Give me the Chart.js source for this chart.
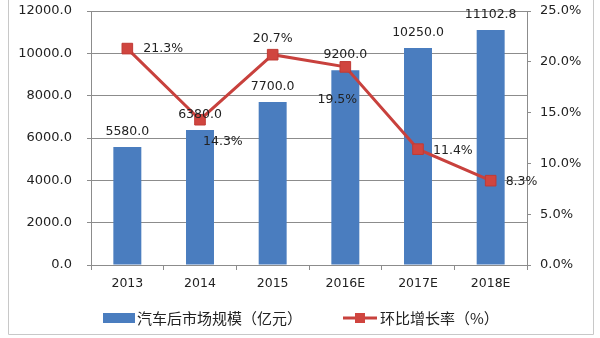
<!DOCTYPE html>
<html lang="zh">
<head>
  <meta charset="UTF-8">
  <title>汽车后市场规模</title>
  <script src="https://cdn.jsdelivr.net/npm/chart.js"></script>
  <style>
    html, body { margin:0; padding:0; background:#fff }
    .wrap { width:600px; height:338px; position:relative }
  </style>
</head>
<body>
  <div class="wrap"><canvas id="c" width="600" height="338"></canvas></div>
  <script>
    // data
    const years=["2013","2014","2015","2016E","2017E","2018E"];
    const marketSize=[5580.0,6380.0,7700.0,9200.0,10250.0,11102.8];
    const growthRate=[21.3,14.3,20.7,19.5,11.4,8.3];
    const sizeLabel="汽车后市场规模（亿元）";
    const rateLabel="环比增长率（%）";

    const BLUE="#4a7dbf", RED="#c8413d", GRID="#8c8c8c", TXT="#222";
    const NUM_FONT="DejaVu Sans";
    const CJK_FONT="'Noto Sans CJK SC'";

    // where each % label sits relative to its point: [dx, dy, align]
    const ratePlace=[[16,0,"left"],[3,22,"left"],[0,-16,"center"],[-8,33,"center"],[15,2,"left"],[15,1,"left"]];

    // frame round the picture
    const framePlugin={
      id:"frame",
      beforeDraw(chart){
        const ctx=chart.ctx;
        ctx.save();
        ctx.strokeStyle="#c8c8c8"; ctx.lineWidth=1;
        ctx.beginPath();
        ctx.moveTo(8.5,0); ctx.lineTo(8.5,334.5); ctx.lineTo(593.5,334.5); ctx.lineTo(593.5,0);
        ctx.stroke();
        ctx.restore();
      }
    };

    // value labels on bars and points
    const labelPlugin={
      id:"valueLabels",
      afterDatasetsDraw(chart){
        const ctx=chart.ctx;
        ctx.save();
        ctx.fillStyle=TXT;
        ctx.font="12.5px "+NUM_FONT;
        ctx.textBaseline="middle";
        chart.getDatasetMeta(0).data.forEach((el,i)=>{
          ctx.textAlign="center";
          ctx.fillText(marketSize[i].toFixed(1), el.x, el.y-15.5);
        });
        chart.getDatasetMeta(1).data.forEach((el,i)=>{
          const [dx,dy,al]=ratePlace[i];
          ctx.textAlign=al;
          ctx.fillText(growthRate[i].toFixed(1)+"%", el.x+dx, el.y+dy);
        });
        ctx.restore();
      }
    };

    // legend drawn under the axis
    const legendPlugin={
      id:"bottomLegend",
      afterDraw(chart){
        const ctx=chart.ctx;
        const y=318;
        ctx.save();
        ctx.font="15px "+CJK_FONT;
        ctx.fillStyle=TXT;
        ctx.textBaseline="middle";
        ctx.textAlign="left";
        // bar item
        let x=103;
        ctx.fillStyle=chart.data.datasets[0].backgroundColor;
        ctx.fillRect(x,y-5,32,10);
        ctx.fillStyle=TXT;
        ctx.fillText(chart.data.datasets[0].label,x+34,y);
        // line item
        x=343;
        ctx.strokeStyle=chart.data.datasets[1].borderColor;
        ctx.lineWidth=3;
        ctx.beginPath(); ctx.moveTo(x,y); ctx.lineTo(x+34,y); ctx.stroke();
        ctx.fillStyle=chart.data.datasets[1].pointBackgroundColor;
        ctx.fillRect(x+12,y-5,10,10);
        ctx.fillStyle=TXT;
        ctx.fillText(chart.data.datasets[1].label,x+37,y);
        ctx.restore();
      }
    };

    // fixed axis sizes so the plot area lands where the original has it
    function fixY(width){
      return s=>{ s.width=width; s.paddingTop=0; s.paddingBottom=0; };
    }

    new Chart(document.getElementById("c"),{
      data:{
        labels:years,
        datasets:[
          {
            type:"bar", label:sizeLabel, data:marketSize, yAxisID:"y",
            backgroundColor:BLUE, borderWidth:0,
            barPercentage:0.385, categoryPercentage:1, order:1
          },
          {
            type:"line", label:rateLabel, data:growthRate, yAxisID:"y1",
            borderColor:RED, borderWidth:3, tension:0,
            pointStyle:"rect", pointRadius:7.5,
            pointBackgroundColor:"#d0453f", pointBorderColor:"#c03a35", pointBorderWidth:1,
            order:0
          }
        ]
      },
      options:{
        responsive:false,
        animation:false,
        layout:{padding:{top:11,bottom:43,left:0,right:0}},
        plugins:{legend:{display:false},tooltip:{enabled:false}},
        scales:{
          x:{
            offset:true,
            afterFit(s){ s.height=30; },
            grid:{offset:true,drawOnChartArea:false,tickLength:5,color:GRID},
            border:{color:GRID},
            ticks:{color:TXT,font:{family:NUM_FONT,size:12.5},padding:6}
          },
          y:{
            position:"left", min:0, max:12000,
            afterFit:fixY(91),
            grid:{color:GRID,tickLength:4},
            border:{color:GRID},
            ticks:{stepSize:2000,color:TXT,font:{family:NUM_FONT,size:13},padding:15,
              callback:v=>v.toFixed(1)}
          },
          y1:{
            position:"right", min:0, max:25,
            afterFit:fixY(73),
            grid:{drawOnChartArea:false,color:GRID,tickLength:4},
            border:{color:GRID},
            ticks:{stepSize:5,color:TXT,font:{family:NUM_FONT,size:13},padding:9,
              callback:v=>v.toFixed(1)+"%"}
          }
        }
      },
      plugins:[framePlugin,labelPlugin,legendPlugin]
    });
  </script>
</body>
</html>
